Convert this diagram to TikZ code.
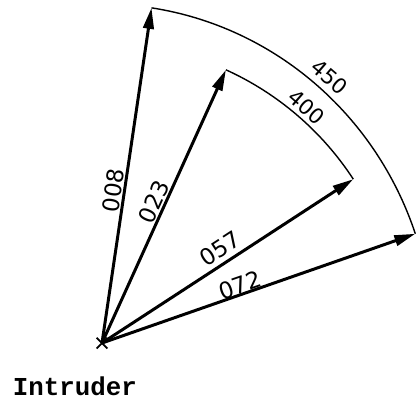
\documentclass[tikz,border=0pt]{standalone}
\usepackage{fontspec}
\usepackage{tikz}
\usetikzlibrary{arrows.meta,shapes.misc}
\newfontfamily\letterfont{DejaVu Sans}
\newfontfamily\typefont{Liberation Mono}

\begin{document}
\begin{tikzpicture}[
    bearing/.style={draw=black, line width=1.7pt, -{Triangle[length=0.42cm, width=0.21cm]}},
    rngarc/.style={draw=black, line width=0.8pt},
    brglabel/.style={sloped, above, inner sep=0.5pt, font=\letterfont\fontsize{13}{15}\selectfont},
    rnglabel/.style={inner sep=0.5pt, font=\letterfont\fontsize{12}{14}\selectfont},
    crossmark/.style={cross out, draw=black, line width=1pt, minimum size=0.18cm, inner sep=0pt}
]
    \useasboundingbox (-2.04,-1.18) rectangle (6.28,6.86);

    \node[crossmark] (intr) at (0,0) {};
    \node[font=\typefont\bfseries\fontsize{14.7}{17}\selectfont, inner sep=0pt] (intrlbl) at (-0.54,-0.86) {Intruder};

    % tips of the bearing lines
    \coordinate (t008) at (81.4:6.62 and 6.78);
    \coordinate (t072) at (18.8:6.62 and 6.78);
    \coordinate (t023) at (65.6:6.0);
    \coordinate (t057) at (33.1:6.0);

    % range arcs
    \draw[rngarc] (t008) arc[start angle=81.4, end angle=18.8, x radius=6.62, y radius=6.78];
    \draw[rngarc] (t023) arc[start angle=65.6, end angle=33.1, radius=6.0];
    \node[rnglabel, rotate=-40.5] (l450) at (49.5:7.0) {450};
    \node[rnglabel, rotate=-41] (l400) at (49.1:6.24) {400};

    % bearings
    \draw[bearing] (intr.center) -- (t008) node[brglabel, pos=0.45] (l008) {008};
    \draw[bearing] (intr.center) -- (t023) node[brglabel, pos=0.5] (l023) {023};
    \draw[bearing] (intr.center) -- (t057) node[brglabel, above=2pt, pos=0.5] (l057) {057};
    \draw[bearing] (intr.center) -- (t072) node[brglabel, above=-1pt, pos=0.45] (l072) {072};
\end{tikzpicture}
\end{document}
